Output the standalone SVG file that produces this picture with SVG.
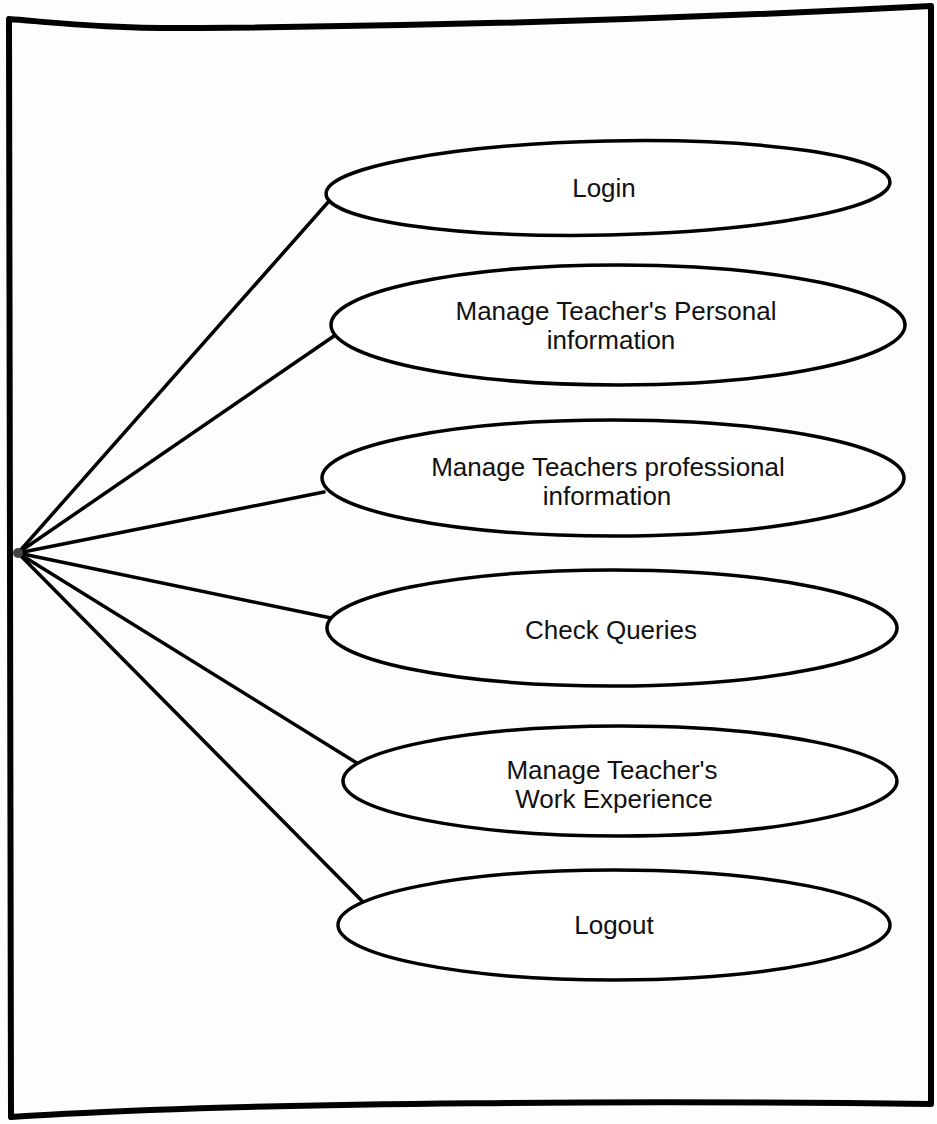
<svg xmlns="http://www.w3.org/2000/svg" width="937" height="1124" viewBox="0 0 937 1124">
<style>
.uc{fill:#fff;stroke:#000;stroke-width:3.5}
.lbl{font-family:"Liberation Sans",Arial,sans-serif;font-size:26px;fill:#111;text-anchor:middle}
.ln{stroke:#000;stroke-width:3.5;fill:none;stroke-linecap:round}
.frame{stroke:#000;stroke-width:6;fill:none;stroke-linejoin:round}
</style>
<rect width="937" height="1124" fill="#fdfdfc"/>
<g id="frame">
<path class="frame" d="M9,19 C60,23 110,29 200,28 C450,26 700,18 931,6 L931,1104 C600,1100 300,1104 150,1110 C80,1113 40,1115 11,1117 Z"/>
</g>
<g id="connectors">
<line class="ln" x1="18" y1="553" x2="330" y2="200"/>
<line class="ln" x1="18" y1="553" x2="334" y2="336"/>
<line class="ln" x1="18" y1="553" x2="324" y2="492"/>
<line class="ln" x1="18" y1="553" x2="331" y2="618"/>
<line class="ln" x1="18" y1="553" x2="360" y2="765"/>
<line class="ln" x1="18" y1="553" x2="364" y2="903"/>
</g>
<g id="actor"><circle cx="18" cy="553" r="5" fill="#444"/></g>
<g id="uc-login">
<ellipse class="uc" cx="608" cy="188" rx="282" ry="47" transform="rotate(-1.2 608 188)"/>
<text class="lbl" x="604" y="197">Login</text>
</g>
<g id="uc-personal">
<ellipse class="uc" cx="618" cy="325" rx="287" ry="60"/>
<text class="lbl" x="616" y="320">Manage Teacher's Personal</text>
<text class="lbl" x="611" y="349">information</text>
</g>
<g id="uc-professional">
<ellipse class="uc" cx="613" cy="478" rx="291" ry="58"/>
<text class="lbl" x="608" y="476">Manage Teachers professional</text>
<text class="lbl" x="607" y="505">information</text>
</g>
<g id="uc-queries">
<ellipse class="uc" cx="612" cy="628" rx="285" ry="58"/>
<text class="lbl" x="611" y="639">Check Queries</text>
</g>
<g id="uc-work">
<ellipse class="uc" cx="620" cy="781" rx="277" ry="55"/>
<text class="lbl" x="612" y="779">Manage Teacher's</text>
<text class="lbl" x="614" y="808">Work Experience</text>
</g>
<g id="uc-logout">
<ellipse class="uc" cx="614" cy="925" rx="276" ry="55"/>
<text class="lbl" x="614" y="934">Logout</text>
</g>
</svg>
